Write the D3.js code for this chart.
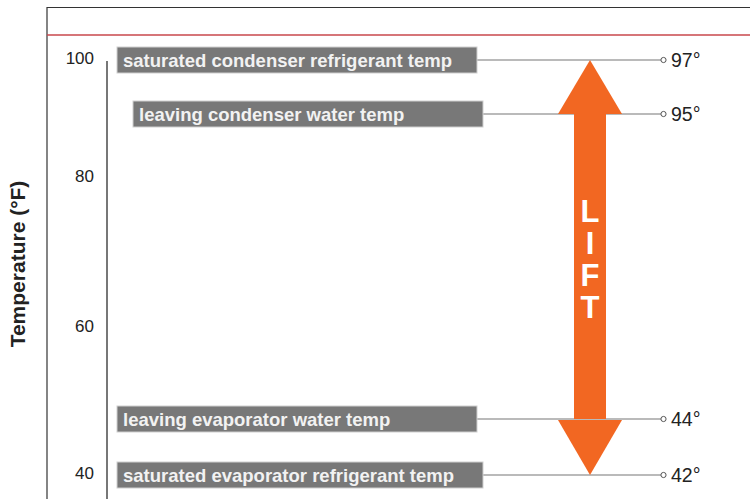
<!DOCTYPE html>
<html>
<head>
<meta charset="utf-8">
<script src="https://cdn.jsdelivr.net/npm/d3@7"></script>
<style>
	body { margin: 0; background: #fff; }
	svg { display: block; font-family: "Liberation Sans", Arial, sans-serif; }
</style>
</head>
<body>
<div id="lift_chart"></div>
<script>
// data
var labels = [
	'saturated condenser refrigerant temp',
	'leaving condenser water temp',
	'leaving evaporator water temp',
	'saturated evaporator refrigerant temp'
];
var temps = [97, 95, 44, 42];
var axisTicks = [100, 80, 60, 40];
var liftText = ['L', 'I', 'F', 'T'];

// layout for each row box (left edge, right edge)
var boxX0 = [117, 133, 117, 117];
var boxX1 = [477, 483, 477, 483];

var width = 750, height = 499;

var svg = d3.select('#lift_chart')
	.append('svg')
	.attr('width', width)
	.attr('height', height);

// axis scale is drawn schematic, not linear
var yAxisScale = d3.scaleLinear()
	.domain([40, 60, 80, 100])
	.range([473, 326, 176, 58]);

// row scale for the four marked temperatures
var yRow = d3.scaleLinear()
	.domain([42, 44, 95, 97])
	.range([475, 419, 114, 60]);

// frame
svg.append('line')
	.attr('x1', 47).attr('x2', 47)
	.attr('y1', 7).attr('y2', height)
	.attr('stroke', '#333').attr('stroke-width', 1.2);
svg.append('line')
	.attr('x1', 47).attr('x2', width)
	.attr('y1', 7.5).attr('y2', 7.5)
	.attr('stroke', '#333').attr('stroke-width', 1.2);
svg.append('line')
	.attr('x1', 47).attr('x2', width)
	.attr('y1', 35).attr('y2', 35)
	.attr('stroke', '#c9474c').attr('stroke-width', 1.3);

// y axis
var yAxis = d3.axisLeft(yAxisScale)
	.tickValues(axisTicks)
	.tickSize(0)
	.tickPadding(13);

var axisG = svg.append('g')
	.attr('transform', 'translate(107,0)')
	.call(yAxis);
axisG.select('.domain').remove();
axisG.selectAll('text')
	.style('font-size', '17px')
	.style('fill', '#222');

svg.append('line')
	.attr('x1', 107).attr('x2', 107)
	.attr('y1', 61).attr('y2', height)
	.attr('stroke', '#555').attr('stroke-width', 1.6);

svg.append('text')
	.attr('transform', 'translate(25,264) rotate(-90)')
	.attr('text-anchor', 'middle')
	.style('font-size', '21px')
	.style('font-weight', 'bold')
	.style('fill', '#222')
	.text('Temperature (°F)');

// leader lines
var rows = svg.selectAll('.row')
	.data(temps)
	.enter()
	.append('g')
	.attr('class', 'row');

// lift arrow
var orange = '#f26722';
var ax = 590, shaftW = 32, headW = 64;
var yTop = yRow(temps[0]), yHeadTop = yRow(temps[1]);
var yHeadBot = yRow(temps[2]), yBot = yRow(temps[3]);

svg.append('rect')
	.attr('x', ax - shaftW / 2)
	.attr('y', yHeadTop)
	.attr('width', shaftW)
	.attr('height', yHeadBot - yHeadTop)
	.attr('fill', orange);
svg.append('path')
	.attr('d', 'M' + ax + ',' + yTop +
		'L' + (ax + headW / 2) + ',' + yHeadTop +
		'L' + (ax - headW / 2) + ',' + yHeadTop + 'Z')
	.attr('fill', orange);
svg.append('path')
	.attr('d', 'M' + ax + ',' + yBot +
		'L' + (ax + headW / 2) + ',' + (yHeadBot + 1) +
		'L' + (ax - headW / 2) + ',' + (yHeadBot + 1) + 'Z')
	.attr('fill', orange);

svg.selectAll('.lift')
	.data(liftText)
	.enter()
	.append('text')
	.attr('class', 'lift')
	.attr('x', ax)
	.attr('y', function(d, i) { return 222 + i * 32; })
	.attr('text-anchor', 'middle')
	.style('font-size', '31px')
	.style('font-weight', 'bold')
	.style('fill', '#fff')
	.text(function(d) { return d; });

// lines drawn on top of the arrow
rows.append('line')
	.attr('x1', function(d, i) { return boxX1[i]; })
	.attr('x2', 661)
	.attr('y1', function(d) { return yRow(d); })
	.attr('y2', function(d) { return yRow(d); })
	.attr('stroke', '#777')
	.attr('stroke-width', 1.2);

rows.append('circle')
	.attr('cx', 663.5)
	.attr('cy', function(d) { return yRow(d); })
	.attr('r', 2.6)
	.attr('fill', '#fff')
	.attr('stroke', '#555')
	.attr('stroke-width', 1);

rows.append('text')
	.attr('x', 671)
	.attr('y', function(d) { return yRow(d) + 7; })
	.style('font-size', '19.5px')
	.style('fill', '#222')
	.text(function(d) { return d + '°'; });

// grey label boxes
rows.append('rect')
	.attr('x', function(d, i) { return boxX0[i]; })
	.attr('y', function(d) { return yRow(d) - 13; })
	.attr('width', function(d, i) { return boxX1[i] - boxX0[i]; })
	.attr('height', 26)
	.attr('fill', '#787878')
	.attr('stroke', '#cfcfcf')
	.attr('stroke-width', 1);

rows.append('text')
	.attr('x', function(d, i) { return boxX0[i] + 6; })
	.attr('y', function(d) { return yRow(d) + 6.5; })
	.style('font-size', '18.5px')
	.style('font-weight', 'bold')
	.style('fill', '#f2f2f2')
	.text(function(d, i) { return labels[i]; });
</script>
</body>
</html>
